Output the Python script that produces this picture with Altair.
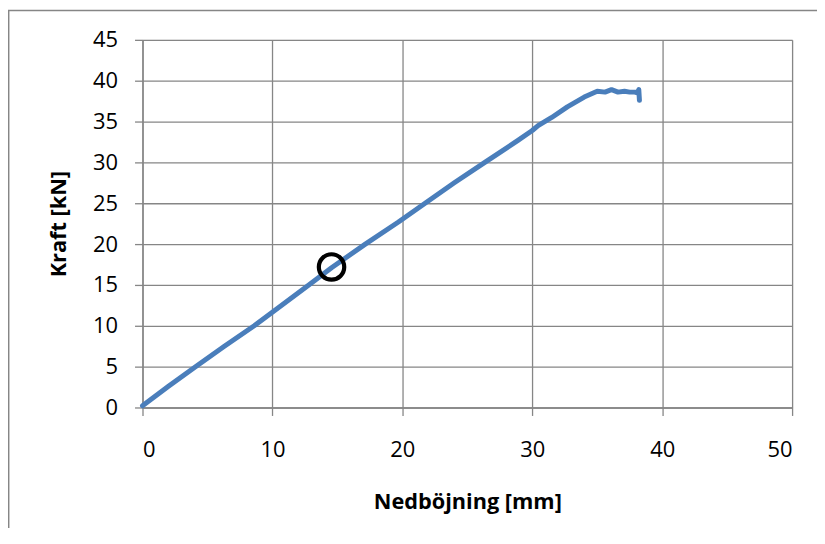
import altair as alt
import pandas as pd

# Deflection (mm) and force (kN)
defl = [0, 2.0, 4.0, 6.3, 8.6, 10.25, 12.8, 14.55, 17.15, 19.7, 21.75, 24.0, 26.35, 28.9,
        30.0, 30.45, 31.5, 32.7, 34.0, 35.0, 35.6, 36.1, 36.6, 37.1, 37.5, 37.9,
        38.1, 38.2, 38.25]
force = [0.2, 2.6, 4.9, 7.5, 10.0, 11.95, 15.0, 17.1, 20.0, 22.7, 25.0, 27.5, 30.0, 32.7,
         33.9, 34.5, 35.5, 36.8, 38.0, 38.7, 38.6, 38.9, 38.6, 38.7, 38.6, 38.6,
         38.5, 38.9, 37.6]

marker_x = [14.55]
marker_y = [17.2]

x_ticks = [0, 10, 20, 30, 40, 50]
y_ticks = [0, 5, 10, 15, 20, 25, 30, 35, 40, 45]

GRAY = "#868686"
FONT = "Open Sans"

W, H = 652, 369

df = pd.DataFrame({"x": defl, "y": force})
df["idx"] = range(len(df))
mk = pd.DataFrame({"x": marker_x, "y": marker_y})
border = pd.DataFrame({"a": [0]})

xscale = alt.Scale(domain=[0, 50], nice=False)
yscale = alt.Scale(domain=[0, 45], nice=False)

xaxis = alt.Axis(values=x_ticks, title="Nedböjning [mm]", grid=True,
                 gridColor=GRAY, gridWidth=1.3, domainColor=GRAY, domainWidth=1.3,
                 tickColor=GRAY, tickWidth=1.3, tickSize=8,
                 labelFont=FONT, labelFontSize=22, labelColor="black", labelPadding=24,
                 titleFont=FONT, titleFontSize=21.8, titleFontWeight="bold",
                 titleColor="black", titleX=W / 2, titleY=94, titleBaseline="middle")
yaxis = alt.Axis(values=y_ticks, title="Kraft [kN]", grid=True,
                 gridColor=GRAY, gridWidth=1.3, domainColor=GRAY, domainWidth=1.3,
                 tickColor=GRAY, tickWidth=1.3, tickSize=8,
                 labelFont=FONT, labelFontSize=22, labelColor="black", labelPadding=17,
                 titleFont=FONT, titleFontSize=21.8, titleFontWeight="bold",
                 titleColor="black", titleX=-84, titleY=H / 2, titleAngle=-90,
                 titleAlign="center", titleBaseline="middle")

frame = alt.Chart(border).mark_rect(fill="white", fillOpacity=0, stroke=GRAY,
                                    strokeWidth=1.5).encode(
    x=alt.value(-134.3), x2=alt.value(W + 200),
    y=alt.value(-29.5), y2=alt.value(H + 300))

line = alt.Chart(df).mark_line(
    color="#4a7ebb", strokeWidth=5, strokeJoin="round", strokeCap="round").encode(
    x=alt.X("x:Q", scale=xscale, axis=xaxis),
    y=alt.Y("y:Q", scale=yscale, axis=yaxis),
    order=alt.Order("idx:Q"))

circle = alt.Chart(mk).mark_point(shape="circle", size=650, filled=False,
                                  stroke="black", strokeWidth=4.2, opacity=1).encode(
    x=alt.X("x:Q", scale=xscale),
    y=alt.Y("y:Q", scale=yscale))

chart = alt.layer(frame, line, circle).properties(
    width=W, height=H,
    autosize=alt.AutoSizeParams(type="none"),
    padding={"left": 135, "top": 31, "right": 25, "bottom": 120},
).configure_view(stroke=None).configure(background="white")

chart.save("out.html", embed_options={"renderer": "svg", "actions": False})
